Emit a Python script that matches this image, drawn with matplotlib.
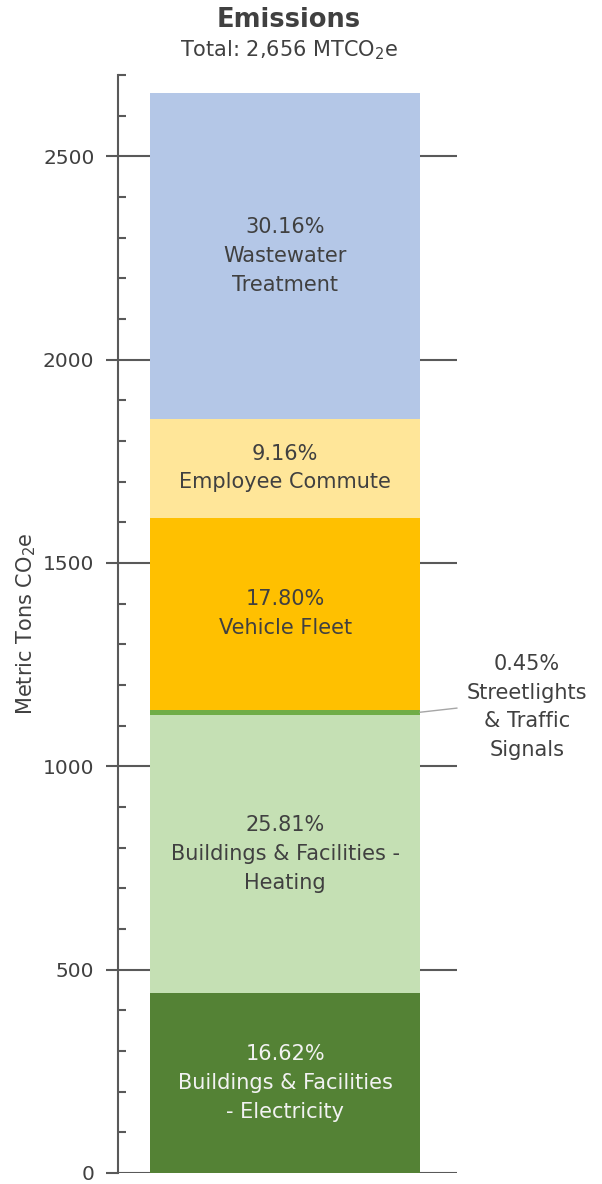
import matplotlib.pyplot as plt

# Emissions by sector (MTCO2e), bottom to top
sectors = ["Buildings & Facilities\n- Electricity",
           "Buildings & Facilities -\nHeating",
           "Streetlights\n& Traffic\nSignals",
           "Vehicle Fleet",
           "Employee Commute",
           "Wastewater\nTreatment"]
percents = [16.62, 25.81, 0.45, 17.80, 9.16, 30.16]
total = 2656
colors = ["#548235", "#C5E0B4", "#70AD47", "#FFC000", "#FFE699", "#B4C7E7"]
text_colors = ["#F2F2F2", "#404040", "#404040", "#404040", "#404040", "#404040"]

values = [p / 100 * total for p in percents]

plt.rcParams.update({
    'font.family': 'DejaVu Sans',
    'text.color': '#404040',
    'mathtext.default': 'regular',
})

fig = plt.figure(figsize=(6.02, 11.84), dpi=100)
ax = fig.add_axes([0.196, 0.0093, 0.563, 0.9274])

ax.set_xlim(0, 1)
ax.set_ylim(0, 2700)

# gridlines at major ticks, behind the bar
for y in range(0, 2700, 500):
    ax.axhline(y, color='#595959', linewidth=1.5, zorder=0)

bar_x = 0.493
bar_w = 0.796
bottom = 0
for i, (v, c) in enumerate(zip(values, colors)):
    ax.bar(bar_x, v, width=bar_w, bottom=bottom, color=c, zorder=2)
    mid = bottom + v / 2
    if i == 2:
        # small slice: label outside the bar with a leader line
        ax.annotate(f"{percents[i]:.2f}%\n{sectors[i]}",
                    xy=(bar_x + bar_w / 2, mid), xycoords='data',
                    xytext=(527, 1184 - 707), textcoords='figure pixels',
                    ha='center', va='center', fontsize=15, linespacing=1.55,
                    color='#404040',
                    arrowprops=dict(arrowstyle='-', color='#A6A6A6', lw=1,
                                    shrinkA=5, shrinkB=0,
                                    relpos=(0.0, 0.5)))
    else:
        ax.text(bar_x, mid, f"{percents[i]:.2f}%\n{sectors[i]}",
                ha='center', va='center', fontsize=15, linespacing=1.55,
                color=text_colors[i], zorder=3)
    bottom += v

ax.set_yticks(range(0, 2700, 500))
ax.set_yticks(range(0, 2701, 100), minor=True)
ax.tick_params(axis='y', which='major', direction='out', length=9, width=1.5,
               color='#595959', labelsize=14.5, labelcolor='#404040', pad=8)
ax.tick_params(axis='y', which='minor', direction='in', length=6, width=1.5,
               color='#595959')
ax.set_xticks([])

for side in ['top', 'right', 'bottom']:
    ax.spines[side].set_visible(False)
ax.spines['left'].set_color('#595959')
ax.spines['left'].set_linewidth(1.5)

ax.set_ylabel("Metric Tons CO$_2$e", fontsize=15, color='#404040')
ax.yaxis.set_label_coords(-0.235, 0.5)

fig.text(0.48, 1 - 20 / 1184, "Emissions", ha='center', va='center',
         fontsize=18.5, fontweight='bold', color='#404040')
fig.text(0.48, 1 - 50 / 1184, "Total: 2,656 MTCO$_2$e", ha='center', va='center',
         fontsize=15, color='#404040')

fig.savefig("out.png", dpi=100)
